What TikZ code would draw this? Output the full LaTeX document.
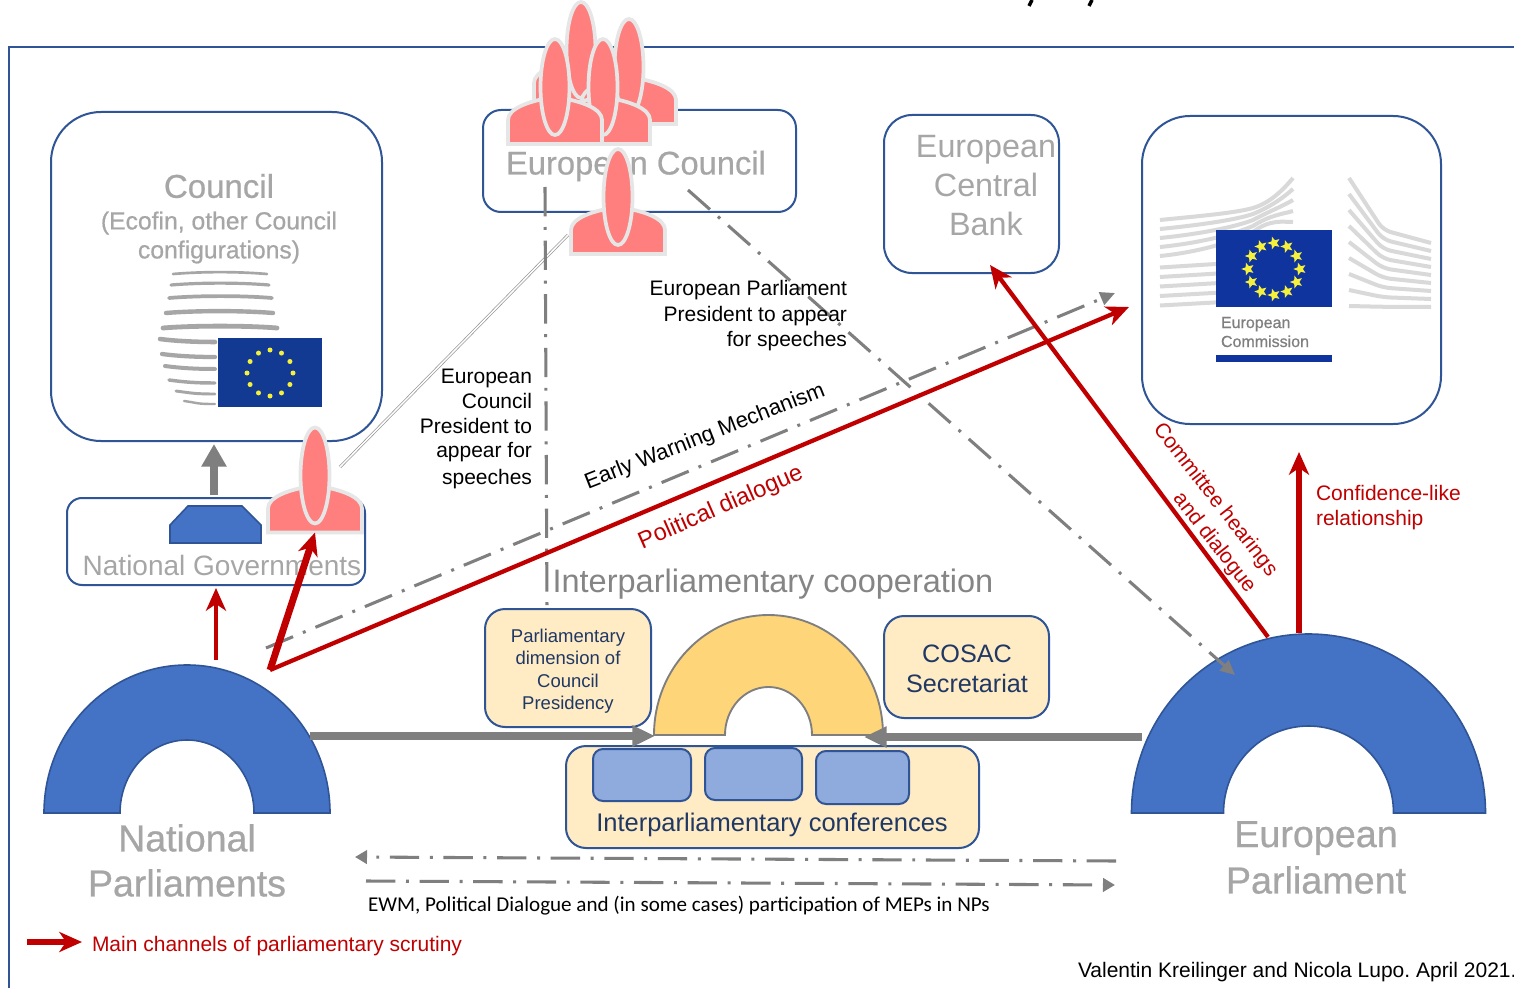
\documentclass[tikz,border=0pt]{standalone}
\usepackage{fontspec}
\setmainfont{Liberation Sans}
\newfontfamily\carlitofont{Carlito}
\newfontfamily\heavyfont[FakeBold=0.6]{Liberation Sans}
\frenchspacing
\usetikzlibrary{arrows.meta,shapes.geometric}
\definecolor{bluebord}{HTML}{2F5597}
\definecolor{archblue}{HTML}{4472C4}
\definecolor{palegrey}{HTML}{A6A6A6}
\definecolor{midgrey}{HTML}{7F7F7F}
\definecolor{redline}{HTML}{C00000}
\definecolor{navytext}{HTML}{1F3864}
\definecolor{creamfill}{HTML}{FFEBC4}
\definecolor{goldfill}{HTML}{FFD579}
\definecolor{softblue}{HTML}{8FAADC}
\definecolor{personfill}{HTML}{FF7F7F}
\definecolor{personline}{HTML}{E6E6E6}
\definecolor{flagblue}{HTML}{123A92}
\definecolor{flagstar}{HTML}{F5F03C}
\newcommand{\fsz}[1]{\fontsize{\fpeval{#1*0.75}pt}{\fpeval{#1*0.9}pt}\selectfont}
\newcommand{\rbox}[7][]{% style,name,x1,y1,x2,y2,radius
  \pgfmathsetmacro\bw{(#5-#3)*0.75}\pgfmathsetmacro\bh{(#6-#4)*0.75}
  \pgfmathsetmacro\bcx{(#5+#3)/2}\pgfmathsetmacro\bcy{(#6+#4)/2}
  \pgfmathsetmacro\brr{#7*0.75}
  \node[rectangle,draw=bluebord,line width=1.5pt,inner sep=0pt,outer sep=0pt,rounded corners=\brr pt,minimum width=\bw pt,minimum height=\bh pt,#1] (#2) at (\bcx,\bcy) {};}
\newcommand{\person}[3]{% name, cx, bottom
  \pgfmathsetmacro\pa{#2-47}\pgfmathsetmacro\pb{#2+47}
  \pgfmathsetmacro\pc{#3-24}\pgfmathsetmacro\pd{#3-35}\pgfmathsetmacro\pe{#3-43}\pgfmathsetmacro\pf{#3-47}
  \pgfmathsetmacro\pg{#2-28}\pgfmathsetmacro\ph{#2+28}\pgfmathsetmacro\pi{#3-57}
  \draw[personshape] (\pa,#3) -- (\pa,\pc) .. controls (\pa,\pd) and (\pg,\pe) .. (#2,\pf) .. controls (\ph,\pe) and (\pb,\pd) .. (\pb,\pc) -- (\pb,#3) -- cycle;
  \draw[personshape] (#2,\pi) ellipse [x radius=14.5,y radius=48];
  \coordinate (#1) at (#2,#3);}
\newcommand{\archshape}[7][]{% style, cx, base, Rx, Ry, rx, ry
  \pgfmathsetmacro\aL{#2-#4}\pgfmathsetmacro\aR{#2+#4}\pgfmathsetmacro\al{#2-#6}\pgfmathsetmacro\ar{#2+#6}
  \pgfmathsetmacro\aT{#3-#5}\pgfmathsetmacro\at{#3-#7}
  \pgfmathsetmacro\aa{#3-.5523*#5}\pgfmathsetmacro\ab{#4*.5523}\pgfmathsetmacro\ac{#3-.5523*#7}\pgfmathsetmacro\ad{#6*.5523}
  \pgfmathsetmacro\ae{#2-\ab}\pgfmathsetmacro\af{#2+\ab}\pgfmathsetmacro\ag{#2-\ad}\pgfmathsetmacro\ah{#2+\ad}
  \draw[#1] (\aL,#3) .. controls (\aL,\aa) and (\ae,\aT) .. (#2,\aT) .. controls (\af,\aT) and (\aR,\aa) .. (\aR,#3) -- (\ar,#3) .. controls (\ar,\ac) and (\ah,\at) .. (#2,\at) .. controls (\ag,\at) and (\al,\ac) .. (\al,#3) -- cycle;}
\tikzset{
  personshape/.style={fill=personfill,draw=personline,line width=2.8pt},
  greyhead/.style={text=palegrey},
  reddart/.style={draw=redline,-{Stealth[length=17pt,width=15pt,inset=5pt]}},
  dashdotline/.style={draw=midgrey,line width=2.3pt,dash pattern=on 22pt off 8pt on 2.2pt off 8pt},
  labelnode/.style={inner sep=0pt,outer sep=0pt,align=center},
  stripe/.style={draw=palegrey,line cap=round},
  wing/.style={draw=black!15,line width=3pt},
}
\begin{document}
\begin{tikzpicture}[x=0.75pt,y=-0.75pt]
\clip (0,0) rectangle (1514,988);
\fill[white] (0,0) rectangle (1514,988);
% clipped descenders of a title above the page
\draw[black,line width=2.6pt] (1032,0) -- (1029,6);
\draw[black,line width=2.6pt] (1092,0) -- (1089,6);
% frame
\coordinate (frameA) at (9,988);\coordinate (frameB) at (9,47);\coordinate (frameC) at (1514,47);
\draw[bluebord,line width=1.6pt] (frameA) -- (frameB) -- (frameC);
% boxes
\rbox{council}{51}{112}{382}{441}{50}
\rbox{ecouncil}{483}{110}{796}{212}{18}
\rbox{ecb}{884}{115}{1059}{273}{28}
\rbox{commission}{1142}{116}{1441}{424}{48}
\rbox{natgov}{67}{498}{365}{585}{15}
\rbox[fill=creamfill]{pdim}{485}{609}{651}{727}{20}
\rbox[fill=creamfill]{cosac}{884}{616}{1049}{718}{20}
\rbox[fill=creamfill]{iconf}{566}{746}{979}{848}{20}
\rbox[fill=softblue]{ba}{593}{749}{691}{801}{10}
\rbox[fill=softblue]{bb}{705}{748}{802}{800}{10}
\rbox[fill=softblue]{bc}{816}{751}{909}{804}{10}
% council logo
\foreach \xa/\xb/\yy/\ww in {173/267/273/2,171/269/284/2.4,169/272/297/2.8,166/273/312/3.3,163/277/327/3.6}
  \draw[stripe,line width=\ww pt] (\xa,\yy+1) .. controls (\xa+30,\yy-1.5) and (\xb-30,\yy-1.5) .. (\xb,\yy+1);
\foreach \xa/\yy/\ww in {160/341/3.4,162/356/3.2,165/368/3,169/382/2.6,176/393/2.2,184/403/1.8}
  \draw[stripe,line width=\ww pt] (\xa,\yy-2) .. controls (\xa+15,\yy) and (195,\yy+1) .. (215,\yy+1);
\fill[flagblue] (218,338) rectangle (322,407);
\foreach \a in {0,30,...,330}
  \fill[flagstar] ({270+23*cos(\a)},{373+23*sin(\a)}) circle (2.5);
% commission logo
\foreach \i in {0,...,4}
  \draw[wing] (1160,{220+\i*9}) .. controls (1200,{216+\i*9}) and (1235,{213+\i*7}) .. (1253,{208+\i*6}) .. controls (1270,{203+\i*4}) and (1283,{190+\i*8}) .. (1293,{178+\i*11});
\foreach \i in {5,...,9}
  \draw[wing] (1160,{220+\i*9.5}) -- (1216,{216+\i*9.6});
\foreach \i in {0,...,8}
  \draw[wing,rounded corners=6pt] (1349,{178+\i*16}) -- (1383,{230+\i*9.6}) -- (1431,{243+\i*8});
\fill[flagblue!90!blue] (1216,230) rectangle (1332,307);
\foreach \a in {0,30,...,330}
  \node[star,star points=5,star point ratio=2.3,fill=flagstar,inner sep=0pt,minimum size=10pt,shape border rotate=90] (st\a) at ({1274+26*cos(\a)},{269+26*sin(\a)}) {};
\node[labelnode,anchor=base west,text=midgrey] (commA) at (1221,328) {\heavyfont\fsz{16}European};
\node[labelnode,anchor=base west,text=midgrey] (commB) at (1221,347) {\heavyfont\fsz{16}Commission};
\fill[flagblue!90!blue] (1216,355) rectangle (1332,362);
% grey text labels
\node[labelnode,greyhead] (tCouncil) at (219,186) {\heavyfont\fsz{33}Council};
\node[labelnode,greyhead] (tEcofin) at (219,223) {\heavyfont\fsz{24.7}(Ecofin, other Council};
\node[labelnode,greyhead] (tConfig) at (219,252) {\heavyfont\fsz{24.7}configurations)};
\node[labelnode,greyhead] (tEC) at (636,166) {\heavyfont\fsz{32.7}European Council};
\node[labelnode,greyhead] (tECBa) at (986,150) {\fsz{32.3}European};
\node[labelnode,greyhead] (tECBb) at (986,185) {\fsz{32.3}Central};
\node[labelnode,greyhead] (tECBc) at (986,224) {\fsz{32.3}Bank};
\node[labelnode,greyhead] (tNG) at (222,565) {\fsz{28}National Governments};
\node[labelnode,text=palegrey!80!black] (tIC) at (773,584) {\fsz{32.5}Interparliamentary cooperation};
\node[labelnode,greyhead] (tNPa) at (187,838) {\heavyfont\fsz{37.5}National};
\node[labelnode,greyhead] (tNPb) at (187,883) {\heavyfont\fsz{37.5}Parliaments};
\node[labelnode,greyhead] (tEPa) at (1316,838) {\heavyfont\fsz{37.7}European};
\node[labelnode,greyhead] (tEPb) at (1316,880) {\heavyfont\fsz{37.7}Parliament};
% navy text
\node[labelnode,text=navytext] (tPa) at (568,638) {\fsz{18.5}Parliamentary};
\node[labelnode,text=navytext] (tPb) at (568,658) {\fsz{18.5}dimension of};
\node[labelnode,text=navytext] (tPc) at (568,681) {\fsz{18.5}Council};
\node[labelnode,text=navytext] (tPd) at (568,705) {\fsz{18.5}Presidency};
\node[labelnode,text=navytext] (tCa) at (967,654) {\fsz{25.2}COSAC};
\node[labelnode,text=navytext] (tCb) at (967,683) {\fsz{25.2}Secretariat};
\node[labelnode,text=navytext] (tIcf) at (772,825) {\fsz{25.5}Interparliamentary conferences};
% arches
\archshape[fill=goldfill,draw=midgrey,line width=1.4pt]{768.5}{735}{114.5}{120}{43.5}{48}
\archshape[fill=archblue,draw=bluebord,line width=1.2pt]{187}{813}{143}{148}{67}{73}
\archshape[fill=archblue,draw=bluebord,line width=1.2pt]{1308.5}{813}{177}{179}{85}{87}
% national government seat
\draw[fill=archblue,draw=bluebord,line width=1.2pt] (170,543) -- (170,525) -- (188,506) -- (242,506) -- (261,525) -- (261,543) -- cycle;
% free ends
\coordinate (councilIn) at (214,444);\coordinate (govOut) at (214,495);
\coordinate (npUp) at (216,660);\coordinate (govIn) at (216,588);
\coordinate (npHub) at (270,670);\coordinate (comIn) at (1129,307);
\coordinate (ewmA) at (266,648);\coordinate (ewmB) at (1115,293);
\coordinate (epA) at (1268,637);\coordinate (ecbIn) at (990,265);
\coordinate (epB) at (1299,633);\coordinate (comIn2) at (1299,452);
\coordinate (npR) at (310,736);\coordinate (archL) at (655,736);
\coordinate (epL) at (1142,737);\coordinate (archR) at (864,737);
\coordinate (ecV) at (545,187);\coordinate (pdimT) at (547,612);
\coordinate (ecD) at (688,190);\coordinate (epD) at (1235,675);
\coordinate (dbA) at (568,235);\coordinate (dbB) at (340,467);
\coordinate (lowA) at (1116,861);\coordinate (lowB) at (355,857);
\coordinate (lowC) at (366,881);\coordinate (lowD) at (1115,885);
\coordinate (legA) at (27,942);\coordinate (legB) at (82,942);
% connectors
\draw[draw=midgrey!80,line width=.55pt,double=white,double distance=1.1pt] (dbA) -- (dbB);
\draw[dashdotline] (ecV) -- (pdimT);
\draw[dashdotline,-{Triangle[length=11pt,width=10pt]}] (ecD) -- (epD);
\draw[dashdotline,-{Triangle[length=11pt,width=10pt]}] (ewmA) -- (ewmB);
\draw[dashdotline,-{Triangle[length=9pt,width=10pt]}] (lowA) -- (lowB);
\draw[dashdotline,-{Triangle[length=9pt,width=10pt]}] (lowC) -- (lowD);
\draw[draw=midgrey,line width=6.5pt,-{Triangle[length=17pt,width=18pt]}] (govOut) -- (councilIn);
\draw[draw=midgrey,line width=5.5pt,-{Triangle[length=17pt,width=15pt]}] (npR) -- (archL);
\draw[draw=midgrey,line width=5.5pt,-{Triangle[length=17pt,width=15pt]}] (epL) -- (archR);
\draw[reddart,line width=3.2pt] (npUp) -- (govIn);
\draw[reddart,line width=3.2pt] (npHub) -- (comIn);
\draw[reddart,line width=3.2pt] (epA) -- (ecbIn);
\draw[reddart,line width=4pt] (epB) -- (comIn2);
\draw[reddart,line width=4.2pt] (legA) -- (legB);
% persons
\person{pC}{581}{107}
\person{pD}{629}{124}
\person{pB}{603}{144}
\person{pA}{555}{144}
\person{pE}{618}{254}
\person{pNG}{315}{532.5}
\draw[reddart,line width=5.2pt] (npHub) -- (pNG);
% black text
\node[labelnode,anchor=east] (t1) at (847,290) {\fsz{21}European Parliament};
\node[labelnode,anchor=east] (t2) at (847,316) {\fsz{21}President to appear};
\node[labelnode,anchor=east] (t3) at (847,341) {\fsz{21}for speeches};
\node[labelnode,anchor=east] (t4) at (532,378) {\fsz{21}European};
\node[labelnode,anchor=east] (t5) at (532,401) {\fsz{21}Council};
\node[labelnode,anchor=east] (t6) at (532,426) {\fsz{21}President to};
\node[labelnode,anchor=east] (t7) at (532,452) {\fsz{21}appear for};
\node[labelnode,anchor=east] (t8) at (532,479) {\fsz{21}speeches};
\node[labelnode,rotate=21.5] (t9) at (705,437) {\fsz{22}Early Warning Mechanism};
\node[labelnode,text=redline,rotate=23.7] (t10) at (721,508) {\fsz{23.6}Political dialogue};
\node[labelnode,text=redline,rotate=-52] (t11) at (1215,500) {\fsz{21}Committee hearings};
\node[labelnode,text=redline,rotate=-52] (t12) at (1214,543) {\fsz{21}and dialogue};
\node[labelnode,text=redline,anchor=west] (t13) at (1316,493) {\fsz{21}Confidence-like};
\node[labelnode,text=redline,anchor=west] (t14) at (1316,520) {\fsz{21}relationship};
\node[labelnode,anchor=west] (t15) at (368,906) {\carlitofont\fsz{21.07}EWM, Political Dialogue and (in some cases) participation of MEPs in NPs};
\node[labelnode,text=redline,anchor=west] (t16) at (92,946) {\fsz{21}Main channels of parliamentary scrutiny};
\node[labelnode,anchor=west] (t17) at (1078,972) {\fsz{21}Valentin Kreilinger and Nicola Lupo. April 2021.};
\end{tikzpicture}
\end{document}
